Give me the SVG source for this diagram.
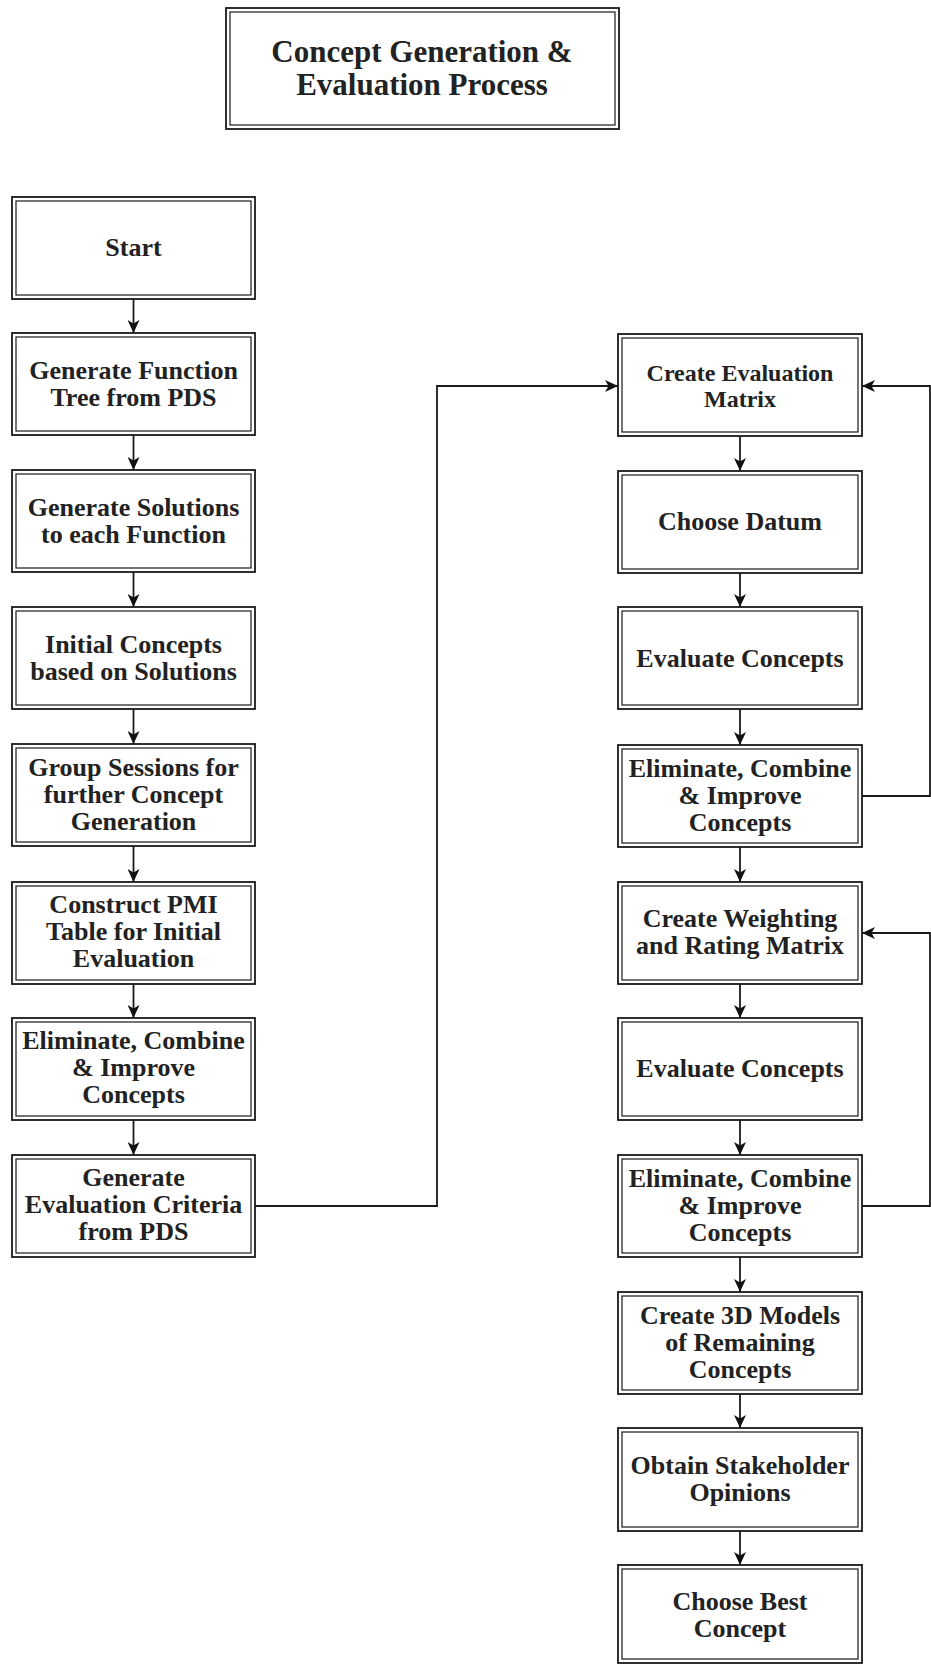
<svg xmlns="http://www.w3.org/2000/svg" width="931" height="1665" viewBox="0 0 931 1665">
<defs>
<style>
.o{fill:#fff;stroke:#1a1a1a;stroke-width:1.8}
.i{fill:none;stroke:#1a1a1a;stroke-width:1.2}
.t{font-family:"Liberation Serif","Times New Roman",serif;font-weight:bold;font-size:26px;fill:#222;text-anchor:middle}
.s{font-size:24px}
.ttl{font-size:31px}
.c{fill:none;stroke:#1a1a1a;stroke-width:1.8}
</style>
<marker id="a" viewBox="0 0 13 12" refX="13" refY="6" markerWidth="13" markerHeight="12" markerUnits="userSpaceOnUse" orient="auto">
<path d="M0,0 L13,6 L0,12 L3.5,6 Z" fill="#111"/>
</marker>
</defs>
<rect width="931" height="1665" fill="#fff"/>
<g id="title">
<rect class="o" x="226" y="8" width="393" height="121"/>
<rect class="i" x="230" y="12" width="385" height="113"/>
<text class="t ttl" x="422" y="62">Concept Generation &amp;</text>
<text class="t ttl" x="422" y="95">Evaluation Process</text>
</g>
<g id="connectors">
<path class="c" d="M133.5,299 V333" marker-end="url(#a)"/>
<path class="c" d="M133.5,435 V470" marker-end="url(#a)"/>
<path class="c" d="M133.5,572 V607" marker-end="url(#a)"/>
<path class="c" d="M133.5,709 V744" marker-end="url(#a)"/>
<path class="c" d="M133.5,846 V882" marker-end="url(#a)"/>
<path class="c" d="M133.5,984 V1018" marker-end="url(#a)"/>
<path class="c" d="M133.5,1120 V1155" marker-end="url(#a)"/>
<path class="c" d="M255,1206 H437 V386 H618" marker-end="url(#a)"/>
<path class="c" d="M740,436 V471" marker-end="url(#a)"/>
<path class="c" d="M740,573 V607" marker-end="url(#a)"/>
<path class="c" d="M740,709 V745" marker-end="url(#a)"/>
<path class="c" d="M740,847 V882" marker-end="url(#a)"/>
<path class="c" d="M740,984 V1018" marker-end="url(#a)"/>
<path class="c" d="M740,1120 V1155" marker-end="url(#a)"/>
<path class="c" d="M740,1257 V1292" marker-end="url(#a)"/>
<path class="c" d="M740,1394 V1428" marker-end="url(#a)"/>
<path class="c" d="M740,1531 V1565" marker-end="url(#a)"/>
<path class="c" d="M862,796 H930 V386 H862" marker-end="url(#a)"/>
<path class="c" d="M862,1206 H930 V933 H862" marker-end="url(#a)"/>
</g>
<g id="start">
<rect class="o" x="12" y="197" width="243" height="102"/><rect class="i" x="16" y="201" width="235" height="94"/>
<text class="t" x="133.5" y="256">Start</text>
</g>
<g id="gen-function-tree">
<rect class="o" x="12" y="333" width="243" height="102"/><rect class="i" x="16" y="337" width="235" height="94"/>
<text class="t" x="133.5" y="379">Generate Function</text>
<text class="t" x="133.5" y="406">Tree from PDS</text>
</g>
<g id="gen-solutions">
<rect class="o" x="12" y="470" width="243" height="102"/><rect class="i" x="16" y="474" width="235" height="94"/>
<text class="t" x="133.5" y="516">Generate Solutions</text>
<text class="t" x="133.5" y="543">to each Function</text>
</g>
<g id="initial-concepts">
<rect class="o" x="12" y="607" width="243" height="102"/><rect class="i" x="16" y="611" width="235" height="94"/>
<text class="t" x="133.5" y="653">Initial Concepts</text>
<text class="t" x="133.5" y="680">based on Solutions</text>
</g>
<g id="group-sessions">
<rect class="o" x="12" y="744" width="243" height="102"/><rect class="i" x="16" y="748" width="235" height="94"/>
<text class="t" x="133.5" y="776">Group Sessions for</text>
<text class="t" x="133.5" y="803">further Concept</text>
<text class="t" x="133.5" y="830">Generation</text>
</g>
<g id="pmi-table">
<rect class="o" x="12" y="882" width="243" height="102"/><rect class="i" x="16" y="886" width="235" height="94"/>
<text class="t" x="133.5" y="913">Construct PMI</text>
<text class="t" x="133.5" y="940">Table for Initial</text>
<text class="t" x="133.5" y="967">Evaluation</text>
</g>
<g id="eliminate-1">
<rect class="o" x="12" y="1018" width="243" height="102"/><rect class="i" x="16" y="1022" width="235" height="94"/>
<text class="t" x="133.5" y="1049">Eliminate, Combine</text>
<text class="t" x="133.5" y="1076">&amp; Improve</text>
<text class="t" x="133.5" y="1103">Concepts</text>
</g>
<g id="gen-eval-criteria">
<rect class="o" x="12" y="1155" width="243" height="102"/><rect class="i" x="16" y="1159" width="235" height="94"/>
<text class="t" x="133.5" y="1186">Generate</text>
<text class="t" x="133.5" y="1213">Evaluation Criteria</text>
<text class="t" x="133.5" y="1240">from PDS</text>
</g>
<g id="create-eval-matrix">
<rect class="o" x="618" y="334" width="244" height="102"/><rect class="i" x="622" y="338" width="236" height="94"/>
<text class="t s" x="740" y="381">Create Evaluation</text>
<text class="t s" x="740" y="407">Matrix</text>
</g>
<g id="choose-datum">
<rect class="o" x="618" y="471" width="244" height="102"/><rect class="i" x="622" y="475" width="236" height="94"/>
<text class="t" x="740" y="530">Choose Datum</text>
</g>
<g id="evaluate-1">
<rect class="o" x="618" y="607" width="244" height="102"/><rect class="i" x="622" y="611" width="236" height="94"/>
<text class="t" x="740" y="667">Evaluate Concepts</text>
</g>
<g id="eliminate-2">
<rect class="o" x="618" y="745" width="244" height="102"/><rect class="i" x="622" y="749" width="236" height="94"/>
<text class="t" x="740" y="777">Eliminate, Combine</text>
<text class="t" x="740" y="804">&amp; Improve</text>
<text class="t" x="740" y="831">Concepts</text>
</g>
<g id="weighting-matrix">
<rect class="o" x="618" y="882" width="244" height="102"/><rect class="i" x="622" y="886" width="236" height="94"/>
<text class="t" x="740" y="927">Create Weighting</text>
<text class="t" x="740" y="954">and Rating Matrix</text>
</g>
<g id="evaluate-2">
<rect class="o" x="618" y="1018" width="244" height="102"/><rect class="i" x="622" y="1022" width="236" height="94"/>
<text class="t" x="740" y="1077">Evaluate Concepts</text>
</g>
<g id="eliminate-3">
<rect class="o" x="618" y="1155" width="244" height="102"/><rect class="i" x="622" y="1159" width="236" height="94"/>
<text class="t" x="740" y="1187">Eliminate, Combine</text>
<text class="t" x="740" y="1214">&amp; Improve</text>
<text class="t" x="740" y="1241">Concepts</text>
</g>
<g id="models-3d">
<rect class="o" x="618" y="1292" width="244" height="102"/><rect class="i" x="622" y="1296" width="236" height="94"/>
<text class="t" x="740" y="1324">Create 3D Models</text>
<text class="t" x="740" y="1351">of Remaining</text>
<text class="t" x="740" y="1378">Concepts</text>
</g>
<g id="stakeholder">
<rect class="o" x="618" y="1428" width="244" height="103"/><rect class="i" x="622" y="1432" width="236" height="95"/>
<text class="t" x="740" y="1474">Obtain Stakeholder</text>
<text class="t" x="740" y="1501">Opinions</text>
</g>
<g id="best-concept">
<rect class="o" x="618" y="1565" width="244" height="98"/><rect class="i" x="622" y="1569" width="236" height="90"/>
<text class="t" x="740" y="1610">Choose Best</text>
<text class="t" x="740" y="1637">Concept</text>
</g>
</svg>
